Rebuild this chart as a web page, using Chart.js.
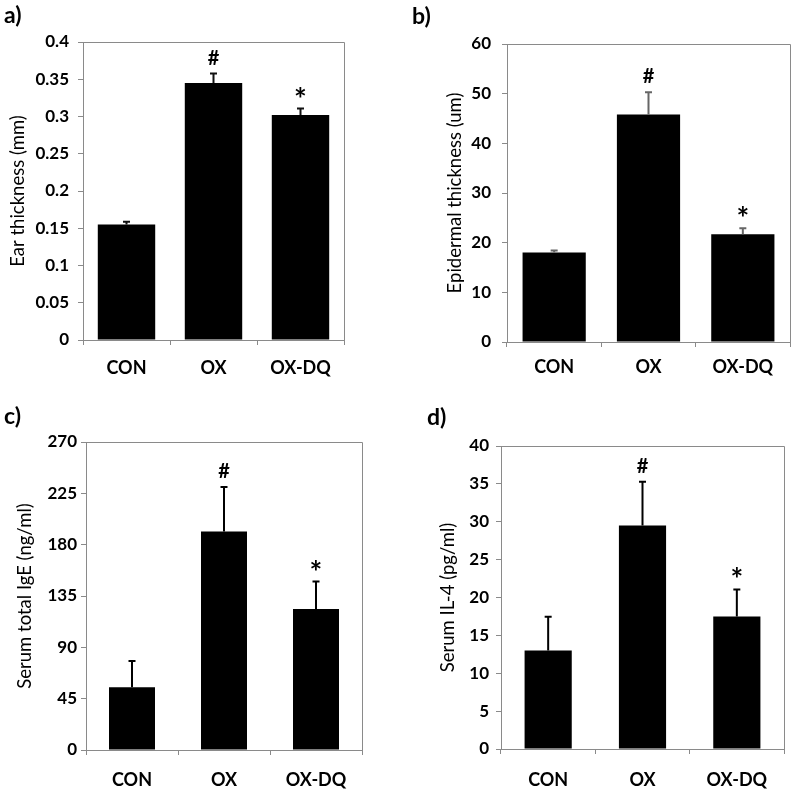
<!DOCTYPE html>
<html>
<head>
<meta charset="utf-8">
<script src="https://cdn.jsdelivr.net/npm/chart.js@4"></script>
<style>
  body { margin: 0; background: #fff; }
  #wrap { position: relative; width: 799px; height: 795px; }
  .panel { position: absolute; }
</style>
</head>
<body>
<div id="wrap">
  <div class="panel" style="left:0;top:0;width:400px;height:400px"><canvas id="ca"></canvas></div>
  <div class="panel" style="left:400px;top:0;width:399px;height:400px"><canvas id="cb"></canvas></div>
  <div class="panel" style="left:0;top:400px;width:400px;height:395px"><canvas id="cc"></canvas></div>
  <div class="panel" style="left:400px;top:400px;width:399px;height:395px"><canvas id="cd"></canvas></div>
</div>
<script>
// shared categories and significance marks
const groups = ["CON", "OX", "OX-DQ"];
const marks = ["", "#", "*"];

// a) ear thickness
const earMean = [0.155, 0.345, 0.302];
const earErr = [0.005, 0.014, 0.010];
const earTicks = ["0", "0.05", "0.1", "0.15", "0.2", "0.25", "0.3", "0.35", "0.4"];

// b) epidermal thickness
const epiMean = [18.0, 45.8, 21.7];
const epiErr = [0.6, 4.7, 1.4];
const epiTicks = ["0", "10", "20", "30", "40", "50", "60"];

// c) serum total IgE
const igeMean = [55, 191.5, 123.5];
const igeErr = [24, 40, 25];
const igeTicks = ["0", "45", "90", "135", "180", "225", "270"];

// d) serum IL-4
const il4Mean = [13.0, 29.5, 17.5];
const il4Err = [4.6, 5.9, 3.7];
const il4Ticks = ["0", "5", "10", "15", "20", "25", "30", "35", "40"];

const FONT = "Lato, 'Open Sans', sans-serif";
const AXIS_GRAY = "#8a8a8a";

// error bars, significance marks, plot frame and panel letter
const extras = {
  id: "extras",
  afterDatasetsDraw(chart, args, opts) {
    const ctx = chart.ctx;
    const y = chart.scales.y;
    const meta = chart.getDatasetMeta(0);
    const area = chart.chartArea;
    ctx.save();
    // frame on top and right
    ctx.strokeStyle = AXIS_GRAY;
    ctx.lineWidth = 1;
    ctx.beginPath();
    ctx.moveTo(area.left, area.top + 0.5);
    ctx.lineTo(area.right + 0.5, area.top + 0.5);
    ctx.lineTo(area.right + 0.5, area.bottom);
    ctx.stroke();
    meta.data.forEach((bar, i) => {
      const v = opts.mean[i];
      const top = y.getPixelForValue(v + opts.err[i]);
      const base = y.getPixelForValue(v);
      ctx.strokeStyle = opts.errColor;
      ctx.lineWidth = 2;
      ctx.beginPath();
      ctx.moveTo(bar.x, base);
      ctx.lineTo(bar.x, top);
      ctx.moveTo(bar.x - 3.5, top + 1);
      ctx.lineTo(bar.x + 3.5, top + 1);
      ctx.stroke();
      const m = opts.marks[i];
      if (m) {
        ctx.fillStyle = "#000";
        ctx.textAlign = "center";
        ctx.textBaseline = "alphabetic";
        if (m === "*") {
          ctx.font = "bold 30px " + FONT;
          ctx.fillText(m, bar.x, top + 2);
        } else {
          ctx.font = "bold 20px " + FONT;
          ctx.fillText(m, bar.x, top - 8);
        }
      }
    });
    ctx.fillStyle = "#000";
    ctx.font = "bold 23px " + FONT;
    ctx.textAlign = "left";
    ctx.textBaseline = "middle";
    ctx.fillText(opts.letter, opts.letterX, opts.letterY);
    ctx.restore();
  }
};

function makePanel(id, cfg) {
  const tickVals = cfg.ticks.map(Number);
  new Chart(document.getElementById(id), {
    type: "bar",
    data: {
      labels: groups,
      datasets: [{
        data: cfg.mean,
        backgroundColor: "#000",
        borderColor: "#000",
        borderWidth: 0,
        categoryPercentage: 1,
        barPercentage: cfg.barPct
      }]
    },
    options: {
      responsive: true,
      maintainAspectRatio: false,
      animation: false,
      layout: { padding: { left: cfg.padL, right: cfg.padR, top: cfg.padT, bottom: 0 } },
      plugins: {
        legend: { display: false },
        tooltip: { enabled: false },
        extras: {
          mean: cfg.mean, err: cfg.err, marks: marks, errColor: cfg.errColor,
          letter: cfg.letter, letterX: cfg.letterX, letterY: cfg.letterY
        }
      },
      scales: {
        x: {
          grid: { drawOnChartArea: false, tickLength: 5, color: AXIS_GRAY, offset: true },
          border: { color: AXIS_GRAY },
          ticks: { color: "#000", font: { family: FONT, size: 18, weight: "bold" }, padding: cfg.xPad },
          afterFit(scale) { scale.height = cfg.xH; }
        },
        y: {
          min: tickVals[0],
          max: tickVals[tickVals.length - 1],
          afterBuildTicks(scale) { scale.ticks = tickVals.map(v => ({ value: v })); },
          grid: { drawOnChartArea: false, tickLength: 5, color: AXIS_GRAY },
          border: { color: AXIS_GRAY },
          ticks: {
            color: "#000",
            font: { family: FONT, size: 17, weight: "bold" },
            padding: cfg.yPad,
            callback: (v, i) => cfg.ticks[i]
          },
          title: {
            display: true,
            text: cfg.title,
            color: "#000",
            font: { family: FONT, size: 18.5 },
            padding: { top: 3, bottom: 0 }
          },
          afterFit(scale) { scale.width = cfg.yW; }
        }
      }
    },
    plugins: [extras]
  });
}

makePanel("ca", {
  mean: earMean, err: earErr, ticks: earTicks, title: "Ear thickness (mm)",
  barPct: 0.66, errColor: "#111",
  padL: 4, yW: 79, padR: 56, padT: 42, xH: 60, xPad: 12, yPad: 9,
  letter: "a)", letterX: 4, letterY: 16
});
makePanel("cb", {
  mean: epiMean, err: epiErr, ticks: epiTicks, title: "Epidermal thickness (um)",
  barPct: 0.67, errColor: "#666",
  padL: 41, yW: 66, padR: 9, padT: 44, xH: 58, xPad: 9, yPad: 11,
  letter: "b)", letterX: 12, letterY: 17
});
makePanel("cc", {
  mean: igeMean, err: igeErr, ticks: igeTicks, title: "Serum total IgE (ng/ml)",
  barPct: 0.5, errColor: "#000",
  padL: 11, yW: 75, padR: 38, padT: 42, xH: 45, xPad: 14, yPad: 4,
  letter: "c)", letterX: 4, letterY: 17
});
makePanel("cd", {
  mean: il4Mean, err: il4Err, ticks: il4Ticks, title: "Serum IL-4 (pg/ml)",
  barPct: 0.5, errColor: "#000",
  padL: 34, yW: 67, padR: 15, padT: 46, xH: 46, xPad: 15, yPad: 7,
  letter: "d)", letterX: 27, letterY: 18
});
</script>
</body>
</html>
